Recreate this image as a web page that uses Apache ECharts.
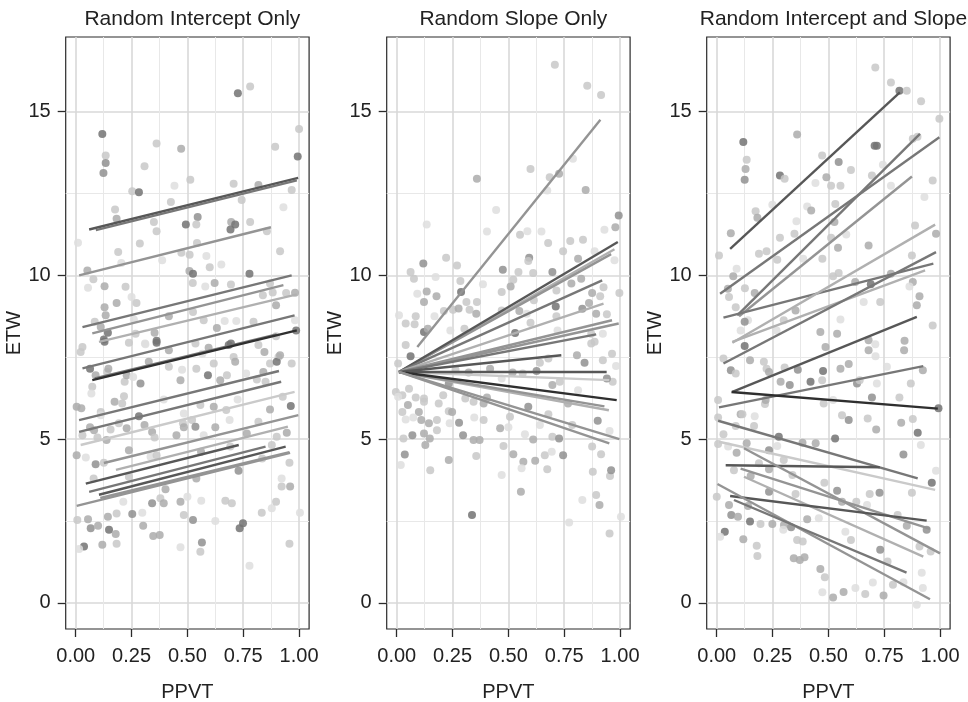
<!DOCTYPE html>
<html>
<head>
<meta charset="utf-8">
<script src="https://cdn.jsdelivr.net/npm/echarts@6/dist/echarts.min.js"></script>
<style>
html, body { margin: 0; padding: 0; background: #fff; }
#main { width: 968px; height: 702px; }
</style>
</head>
<body>
<div id="main"></div>
<script>
// panel titles and axis ticks
var panelTitles = ['Random Intercept Only', 'Random Slope Only', 'Random Intercept and Slope'];
var xTicks = [0, 0.25, 0.5, 0.75, 1];
var xMinor = [0.125, 0.375, 0.625, 0.875];
var yTicks = [0, 5, 10, 15];
var yMinor = [2.5, 7.5, 12.5];

// points: [PPVT, ETW, group shade 1..5]
var ptsIntercept = [
  [0.119,14.32,5],[0.134,13.66,2],[0.134,13.43,4],[0.124,13.13,4],[0.362,14.03,2],[0.472,13.87,3],[0.308,13.33,2],
  [0.726,15.56,5],[0.781,15.77,2],[1.0,14.47,2],[0.994,13.63,5],[0.893,13.93,2],[0.513,12.92,2],[0.442,12.74,1],
  [0.707,12.8,2],[0.253,12.57,2],[0.283,12.54,5],[0.426,12.24,2],[0.743,12.3,2],[0.818,12.76,3],[0.967,12.61,2],
  [0.93,12.08,1],[0.176,12.01,2],[0.183,11.73,3],[0.546,11.78,4],[0.493,11.55,5],[0.54,11.55,2],[0.35,11.63,2],
  [0.362,11.35,2],[0.696,11.63,3],[0.714,11.55,5],[0.693,11.4,5],[0.781,11.63,2],[0.856,11.35,2],[0.01,11.0,1],
  [0.287,10.97,2],[0.387,10.46,1],[0.19,10.71,2],[0.204,10.38,1],[0.473,10.69,2],[0.51,10.63,2],[0.543,10.99,2],
  [0.585,10.59,1],[0.652,10.33,1],[0.6,10.25,2],[0.509,10.13,3],[0.525,10.05,5],[0.915,10.74,2],[0.052,10.15,3],
  [0.079,9.88,2],[0.055,9.62,1],[0.129,9.67,3],[0.223,9.65,2],[0.524,9.77,2],[0.58,9.66,1],[0.622,9.77,3],
  [0.695,9.72,2],[0.778,10.05,5],[0.87,9.75,2],[0.882,9.48,2],[0.942,9.46,2],[0.982,9.47,3],[0.25,9.34,1],
  [0.272,9.16,2],[0.183,9.16,3],[0.129,9.03,3],[0.134,8.78,3],[0.085,8.58,2],[0.112,8.42,3],[0.26,8.65,1],
  [0.417,8.75,3],[0.525,8.88,2],[0.573,8.63,2],[0.667,8.61,1],[0.719,8.61,1],[0.796,8.58,2],[0.897,9.09,3],
  [0.838,9.39,2],[0.982,8.63,1],[0.987,8.32,5],[0.144,8.25,5],[0.268,8.22,2],[0.353,8.25,3],[0.31,7.92,1],
  [0.362,8.0,5],[0.126,8.04,5],[0.632,8.39,3],[0.695,7.92,5],[0.897,8.14,2],
  [0.03,7.81,2],[0.022,7.66,2],[0.129,7.97,5],[0.238,7.94,2],[0.312,7.9,1],[0.362,7.94,5],[0.417,7.71,3],
  [0.536,7.92,2],[0.595,7.79,3],[0.618,7.31,2],[0.567,7.61,1],[0.54,7.15,2],[0.707,7.51,2],[0.714,7.36,3],
  [0.685,7.87,5],[0.818,7.87,2],[0.845,7.66,3],[0.87,7.31,2],[0.908,7.51,2],[0.9,7.36,5],[0.967,7.31,2],
  [0.064,7.15,5],[0.074,6.6,2],[0.089,6.95,3],[0.07,6.39,1],[0.141,7.05,2],[0.146,7.15,3],[0.29,6.7,4],
  [0.219,6.75,2],[0.228,6.95,3],[0.257,6.9,1],[0.327,7.36,3],[0.417,7.21,2],[0.469,6.8,3],[0.476,7.12,1],
  [0.592,6.95,5],[0.647,6.8,3],[0.677,6.95,2],[0.763,7.0,1],[0.811,6.82,2],[0.84,7.05,3],[0.85,6.75,2],
  [0.915,7.56,3],[0.927,6.29,2],[0.725,6.21,1],[0.004,5.99,3],[0.025,5.94,3],[0.174,6.14,3],[0.208,6.09,2],
  [0.216,6.31,2],[0.112,5.83,2],[0.283,5.7,5],[0.064,5.36,3],[0.03,5.12,2],[0.112,5.73,1],[0.082,5.27,3],
  [0.156,5.29,2],[0.193,5.48,2],[0.228,5.33,3],[0.097,5.05,2],[0.138,4.97,3],[0.308,5.43,3],[0.342,5.22,3],
  [0.353,5.05,2],[0.394,6.21,1],[0.484,5.78,1],[0.48,5.48,2],[0.484,5.36,3],[0.521,5.58,2],[0.536,5.38,4],
  [0.451,5.12,3],[0.558,6.04,2],[0.618,5.99,3],[0.625,5.36,3],[0.573,5.12,1],[0.689,5.58,1],[0.674,5.89,2],
  [0.766,5.17,3],[0.818,5.53,2],[0.87,5.9,3],[0.9,5.07,2],[0.945,5.19,3],[0.963,6.01,5],[0.878,4.82,2],
  [0.004,4.51,3],[0.045,4.44,1],[0.089,4.23,4],[0.238,4.66,3],[0.335,4.46,1],[0.362,4.51,2],[0.126,4.28,2],
  [0.08,3.8,2],[0.238,3.85,2],[0.402,3.47,3],[0.54,3.8,3],[0.561,4.61,3],[0.692,4.77,2],[0.729,4.03,4],
  [0.835,4.41,2],[0.957,4.28,2],[0.922,3.55,2],[0.96,3.55,3],[0.007,2.53,2],[0.055,2.55,3],[0.067,2.28,4],
  [0.1,2.35,3],[0.144,2.63,3],[0.149,2.23,5],[0.179,2.1,3],[0.183,1.8,2],[0.119,1.77,3],[0.037,1.72,5],
  [0.015,1.64,1],[0.183,2.73,2],[0.213,3.09,1],[0.253,2.71,4],[0.298,2.75,1],[0.302,2.35,3],[0.342,3.04,4],
  [0.347,2.04,3],[0.376,2.07,3],[0.379,3.19,2],[0.394,3.04,3],[0.469,3.09,3],[0.484,2.68,2],[0.525,2.53,4],
  [0.5,3.24,1],[0.562,3.12,1],[0.469,1.7,1],[0.565,1.84,4],[0.558,1.56,2],[0.625,2.5,1],[0.67,3.12,2],
  [0.699,3.04,2],[0.734,2.28,5],[0.749,2.43,5],[0.778,1.13,1],[0.833,2.75,2],[0.878,2.89,1],[0.897,3.09,2],
  [0.922,3.8,1],[0.957,1.8,2],[1.004,2.75,1]
];

var ptsSlope = [
  [0.708,16.43,2],[0.853,15.79,2],[0.915,15.51,2],[0.359,12.95,3],[0.599,13.25,2],[0.685,13.0,2],[0.727,13.1,3],
  [0.789,13.56,1],[0.674,12.59,1],[0.846,12.61,3],[0.134,11.55,1],[0.445,12.0,1],[0.404,11.34,1],[0.552,11.24,2],
  [0.585,11.35,1],[0.648,11.34,1],[0.678,10.99,2],[0.745,10.74,2],[0.777,11.05,2],[0.834,11.09,2],[0.93,11.39,1],
  [0.979,11.47,3],[0.994,11.83,4],[0.975,10.46,1],[0.593,10.54,4],[0.589,10.44,2],[0.475,10.17,4],[0.545,10.1,2],
  [0.697,10.1,4],[0.812,10.51,3],[0.886,10.74,1],[0.062,10.1,2],[0.077,9.9,2],[0.119,10.36,4],[0.174,9.95,1],
  [0.221,10.54,2],[0.27,10.3,2],[0.285,9.83,2],[0.386,9.73,1],[0.47,9.49,2],[0.522,9.87,2],[0.51,9.66,3],
  [0.611,10.07,2],[0.715,9.54,2],[0.782,9.75,3],[0.826,9.9,3],[0.926,9.64,2],[0.875,9.46,3],[0.911,9.36,2],
  [0.997,9.46,2],[0.134,9.51,3],[0.178,9.36,3],[0.288,9.49,5],[0.092,9.44,1],[0.122,9.19,3],[0.01,8.78,1],
  [0.085,8.75,2],[0.169,8.75,1],[0.211,8.91,2],[0.252,8.95,2],[0.277,8.99,3],[0.326,8.95,2],[0.356,8.83,3],
  [0.359,9.19,2],[0.312,9.19,2],[0.47,8.93,2],[0.549,8.91,3],[0.614,9.24,2],[0.582,8.83,1],[0.712,9.05,5],
  [0.715,8.75,2],[0.831,8.98,4],[0.861,9.16,3],[0.893,8.83,3],[0.941,8.81,2],[0.122,8.27,5],[0.08,8.51,2],
  [0.139,8.37,3],[0.04,8.53,2],[0.24,8.32,1],[0.303,8.37,2],[0.53,8.24,5],[0.599,8.55,2],[0.72,8.32,1],
  [0.871,8.22,2],[0.923,8.22,1],[0.886,7.97,2],
  [0.006,7.31,2],[0.062,7.53,5],[0.04,7.87,2],[-0.004,6.44,2],[0.025,6.34,2],[0.006,6.29,1],[0.055,6.54,2],
  [0.05,6.04,3],[0.085,6.27,2],[0.122,6.24,2],[0.122,6.14,2],[0.099,5.83,3],[0.025,5.83,2],[0.04,5.6,1],
  [0.074,5.66,1],[0.11,5.58,3],[0.144,5.48,3],[0.18,5.58,2],[0.18,5.27,2],[0.122,5.17,3],[0.148,5.02,3],
  [0.128,4.82,3],[0.07,5.12,4],[0.03,5.02,2],[0.036,4.53,4],[0.018,4.21,1],[0.15,4.05,2],[0.188,6.09,2],
  [0.208,6.34,2],[0.233,5.85,2],[0.248,5.83,3],[0.279,5.5,4],[0.237,5.48,1],[0.297,5.12,4],[0.344,4.97,3],
  [0.371,4.97,3],[0.356,4.48,2],[0.233,4.36,3],[0.337,2.68,5],[0.307,6.24,2],[0.344,6.14,2],[0.389,6.09,3],
  [0.404,6.27,3],[0.347,5.66,1],[0.389,5.58,2],[0.463,5.33,3],[0.478,4.79,2],[0.47,3.9,1],[0.5,5.36,1],
  [0.507,5.68,2],[0.522,4.54,3],[0.567,4.31,3],[0.559,4.11,1],[0.556,3.39,3],[0.574,5.15,1],[0.611,4.99,3],
  [0.589,5.99,4],[0.62,4.34,3],[0.663,4.51,2],[0.674,4.08,2],[0.694,4.61,1],[0.697,5.07,2],[0.727,5.02,4],
  [0.745,4.51,4],[0.641,5.43,1],[0.679,5.76,2],[0.767,6.09,3],[0.786,5.43,2],[0.812,6.49,1],[0.772,2.45,1],
  [0.831,3.14,1],[0.878,4.0,2],[0.9,5.56,4],[0.875,4.77,2],[0.915,4.54,2],[0.893,3.29,2],[0.908,2.99,3],
  [0.953,2.12,2],[0.955,3.87,2],[0.96,4.05,4],[0.953,5.25,1],[1.004,2.63,1],[0.967,6.75,2],[0.941,6.85,4],
  [0.964,7.61,2],[0.982,7.23,1],[0.807,7.56,3],[0.841,7.33,4],[0.871,7.92,2],[0.923,7.41,2],[0.564,7.0,2],
  [0.519,7.03,3],[0.626,7.08,4],[0.47,6.85,1],[0.418,7.15,3],[0.322,7.03,3],[0.263,7.12,2],[0.233,6.7,4],
  [0.73,6.75,2],[0.697,6.65,3],[0.641,7.33,2],[0.679,7.46,2]
];

var ptsBoth = [
  [0.01,10.61,2],[0.063,11.29,3],[0.119,14.07,5],[0.134,13.53,2],[0.129,13.25,3],[0.125,12.92,4],[0.36,14.3,3],
  [0.71,16.35,2],[0.78,15.89,2],[0.818,15.64,5],[0.851,15.64,2],[0.915,15.32,2],[0.997,14.78,2],[0.717,13.96,5],
  [0.707,13.96,5],[0.472,13.66,2],[0.546,13.46,4],[0.601,13.22,2],[0.744,13.38,1],[0.283,13.05,5],[0.304,12.95,2],
  [0.442,12.82,1],[0.491,13.0,3],[0.512,12.74,2],[0.554,12.74,2],[0.695,13.05,2],[0.78,12.74,1],[0.967,12.9,2],
  [0.93,12.39,1],[0.878,14.17,2],[0.174,11.96,2],[0.182,11.76,3],[0.405,12.1,1],[0.423,11.98,3],[0.531,12.18,2],
  [0.527,11.63,3],[0.357,11.65,1],[0.348,11.27,2],[0.249,12.16,1],[0.283,11.15,2],[0.512,11.15,2],[0.58,11.25,1],
  [0.68,10.91,3],[0.543,10.84,3],[0.473,10.51,2],[0.189,10.66,2],[0.223,10.74,2],[0.271,10.48,2],[0.387,10.51,1],
  [0.521,9.97,2],[0.546,10.07,2],[0.089,10.2,1],[0.074,9.97,3],[0.05,9.59,3],[0.055,9.34,2],[0.085,9.03,2],
  [0.126,9.61,2],[0.17,9.46,3],[0.14,8.63,1],[0.125,8.58,4],[0.107,8.32,1],[0.353,8.93,3],[0.268,8.32,1],
  [0.3,8.63,2],[0.464,8.27,3],[0.539,8.22,3],[0.554,8.65,1],[0.62,9.8,3],[0.69,9.73,5],[0.732,9.19,2],
  [0.658,9.19,1],[0.78,10.05,3],[0.878,9.8,3],[0.863,9.66,1],[0.874,10.61,2],[0.908,9.36,3],[0.896,9.09,3],
  [0.967,8.47,2],[0.982,11.27,3],[0.888,11.52,2],[0.899,14.23,2],[0.841,8.0,3],[0.68,8.02,3],[0.71,7.9,1],
  [0.487,7.81,3],
  [0.03,7.46,2],[0.063,7.1,4],[0.085,7.0,2],[0.125,7.84,5],[0.149,7.41,3],[0.006,6.19,2],[0.211,7.36,2],
  [0.223,7.15,2],[0.234,7.05,3],[0.216,6.07,2],[0.219,6.19,3],[0.286,6.75,3],[0.304,7.19,2],[0.327,6.65,4],
  [0.363,7.12,4],[0.42,6.75,5],[0.476,7.08,5],[0.472,6.8,2],[0.479,6.09,2],[0.521,6.19,1],[0.554,7.15,3],
  [0.591,7.29,3],[0.628,6.7,4],[0.64,6.8,2],[0.695,6.27,4],[0.717,6.7,1],[0.68,7.71,3],[0.711,7.53,1],
  [0.762,7.21,1],[0.839,7.71,3],[0.869,6.7,2],[0.923,7.1,3],[0.818,6.27,2],[0.993,5.94,5],[0.561,5.73,2],
  [0.591,5.58,4],[0.676,5.63,2],[0.714,5.29,3],[0.826,5.5,3],[0.878,5.61,2],[0.9,5.19,5],[0.914,4.82,1],
  [0.836,4.53,4],[0.006,5.66,2],[0.03,5.15,2],[0.006,4.85,2],[0.051,4.77,1],[0.085,5.4,2],[0.107,5.76,3],
  [0.115,5.76,2],[0.17,5.7,1],[0.167,5.4,2],[0.134,4.87,3],[0.089,4.58,3],[0.077,4.05,2],[0.152,3.87,3],
  [0.189,4.26,2],[0.234,4.66,4],[0.234,4.08,3],[0.278,5.07,5],[0.271,4.79,1],[0.3,4.36,2],[0.339,3.9,2],
  [0.384,4.89,3],[0.443,4.87,3],[0.53,5.02,5],[0.0,3.24,2],[0.055,2.99,3],[0.065,2.68,4],[0.095,2.63,3],
  [0.14,2.96,3],[0.149,2.48,5],[0.036,2.17,5],[0.015,2.02,1],[0.119,1.94,3],[0.179,1.74,2],[0.182,1.43,2],
  [0.196,2.41,2],[0.234,3.39,4],[0.249,2.41,3],[0.301,2.38,3],[0.298,2.23,1],[0.333,2.31,4],[0.353,3.32,2],
  [0.36,1.92,2],[0.385,1.87,2],[0.345,1.36,3],[0.372,1.31,3],[0.393,1.39,3],[0.405,2.55,3],[0.457,2.58,1],
  [0.482,3.67,2],[0.464,1.03,3],[0.484,0.78,2],[0.473,0.32,1],[0.521,0.16,3],[0.568,0.33,3],[0.539,3.42,4],
  [0.561,3.09,3],[0.576,2.17,1],[0.601,1.92,2],[0.625,3.09,2],[0.621,0.45,1],[0.665,0.27,2],[0.673,2.99,1],
  [0.685,3.32,2],[0.729,3.36,4],[0.732,1.62,4],[0.765,1.26,2],[0.699,0.62,1],[0.747,0.22,3],[0.789,0.55,2],
  [0.81,2.68,2],[0.851,2.35,3],[0.836,0.63,1],[0.874,3.36,2],[0.908,1.72,2],[0.918,0.92,1],[0.923,0.45,1],
  [0.896,-0.06,1],[0.94,2.23,4],[0.958,1.57,2],[0.963,3.67,5],[0.982,4.03,1]
];

// fitted group lines: [x1, y1, x2, y2, group shade 1..6]
var linesIntercept = [
  [0.06,11.4,0.996,12.98,5],[0.09,11.38,0.99,12.9,4],[0.015,10.0,0.874,11.47,3],[0.03,8.42,0.967,10.0,4],
  [0.074,8.23,0.93,9.7,3],[0.104,7.97,0.99,9.42,2],[0.03,7.16,0.98,8.78,4],[0.085,6.85,0.9,8.2,4],
  [0.074,6.8,0.99,8.32,6],[0.015,5.58,0.91,7.08,4],[0.015,5.22,0.92,6.75,4],[0.022,4.82,0.98,6.44,1],
  [0.126,4.27,0.997,5.73,3],[0.18,4.06,0.95,5.38,2],[0.045,3.64,0.73,4.82,5],[0.06,3.39,0.85,4.77,4],
  [0.104,3.3,0.94,4.77,5],[0.11,3.2,0.957,4.6,3],[0.004,2.96,0.96,4.58,3]
];
var linesSlope = [
  [0.092,7.81,0.912,14.75,3],[0.01,7.05,0.975,10.8,2],[0.01,7.05,0.96,10.65,3],[0.01,7.05,0.99,11.02,5],
  [0.01,7.05,0.92,9.85,4],[0.01,7.05,0.926,9.14,2],[0.01,7.05,0.964,8.63,3],[0.01,7.05,0.994,8.53,3],
  [0.01,7.05,0.893,8.2,4],[0.01,7.05,0.737,7.56,5],[0.01,7.05,0.952,6.8,1],[0.01,7.05,0.94,7.05,5],
  [0.01,7.05,0.95,5.88,2],[0.01,7.05,0.93,6.0,3],[0.01,7.05,0.985,6.19,6],[0.01,7.05,0.997,5.0,3],
  [0.01,7.05,0.952,4.87,3]
];
var linesBoth = [
  [0.06,10.81,0.82,15.59,5],[0.015,9.44,0.997,14.22,4],[0.092,8.78,0.91,14.32,4],[0.1,8.75,0.874,13.02,3],
  [0.03,8.71,0.97,10.36,4],[0.07,7.94,0.978,11.55,2],[0.07,7.97,0.933,10.15,2],[0.03,7.31,0.982,10.71,4],
  [0.07,6.44,0.896,8.73,5],[0.01,5.97,0.925,7.23,4],[0.066,6.44,0.99,5.93,6],[0.006,5.56,0.9,3.8,4],
  [0.01,4.92,0.978,3.45,1],[0.04,4.2,0.73,4.14,5],[0.122,4.72,1.0,1.51,3],[0.107,4.1,0.955,2.26,3],
  [0.122,3.85,0.925,1.41,2],[0.06,3.26,0.94,2.51,5],[0.003,3.63,0.955,0.11,3],[0.077,3.14,0.85,0.92,4]
];

var pointColors = ['', '#dedede', '#c8c8c8', '#ababab', '#919191', '#737373'];
var lineColors = ['', '#cacaca', '#b0b0b0', '#949494', '#777777', '#575757', '#2f2f2f'];
var font = 'Liberation Sans, Arial, Helvetica, sans-serif';

var myChart = echarts.init(document.getElementById('main'));

var gridLefts = [65.7, 386.7, 706.7];
var allPts = [ptsIntercept, ptsSlope, ptsBoth];
var allLines = [linesIntercept, linesSlope, linesBoth];

var grids = [], xAxes = [], yAxes = [], titles = [], series = [];

for (var i = 0; i < 3; i++) {
    grids.push({
        left: gridLefts[i], top: 37, width: 243.4, height: 592,
        containLabel: false, outerBoundsMode: 'none',
        show: true, backgroundColor: '#fff', borderColor: '#2b2b2b', borderWidth: 1.2
    });
    titles.push({
        text: panelTitles[i],
        left: gridLefts[i] + 121.7, top: 4, textAlign: 'center',
        textStyle: { fontFamily: font, fontSize: 21, fontWeight: 'normal', color: '#222' }
    });
    // main axes (index 2*i) and minor-grid axes (index 2*i+1)
    xAxes.push({
        type: 'value', gridIndex: i, min: -0.045, max: 1.045, position: 'bottom',
        axisLine: { show: false, onZero: false },
        axisTick: { show: true, length: 8, customValues: xTicks, lineStyle: { color: '#2b2b2b', width: 1.3 } },
        axisLabel: {
            customValues: xTicks, margin: 17, fontSize: 20, fontFamily: font, color: '#222',
            formatter: function (v) { return v.toFixed(2); }
        },
        splitLine: { show: true, lineStyle: { color: '#d9d9d9', width: 1.6 } },
        name: 'PPVT', nameLocation: 'middle', nameGap: 53,
        nameTextStyle: { fontSize: 20, fontFamily: font, color: '#222' }
    });
    xAxes.push({
        type: 'value', gridIndex: i, min: -0.045, max: 1.045, position: 'top',
        axisLine: { show: false, onZero: false },
        axisTick: { show: false, customValues: xMinor },
        axisLabel: { show: false, customValues: xMinor },
        splitLine: { show: true, lineStyle: { color: '#e8e8e8', width: 1 } }
    });
    yAxes.push({
        type: 'value', gridIndex: i, min: -0.8, max: 17.28, position: 'left',
        axisLine: { show: false, onZero: false },
        axisTick: { show: true, length: 8, customValues: yTicks, lineStyle: { color: '#2b2b2b', width: 1.3 } },
        axisLabel: { customValues: yTicks, margin: 15, fontSize: 20, fontFamily: font, color: '#222' },
        splitLine: { show: true, lineStyle: { color: '#d9d9d9', width: 1.6 } },
        name: 'ETW', nameLocation: 'middle', nameGap: 41, nameRotate: 90,
        nameTextStyle: { fontSize: 20, fontFamily: font, color: '#222' }
    });
    yAxes.push({
        type: 'value', gridIndex: i, min: -0.8, max: 17.28, position: 'right',
        axisLine: { show: false, onZero: false },
        axisTick: { show: false, customValues: yMinor },
        axisLabel: { show: false, customValues: yMinor },
        splitLine: { show: true, lineStyle: { color: '#e8e8e8', width: 1 } }
    });

    series.push({
        type: 'scatter', xAxisIndex: 2 * i, yAxisIndex: 2 * i, clip: false,
        symbolSize: 8, z: 2,
        itemStyle: {
            opacity: 0.85,
            color: function (p) { return pointColors[p.data[2]]; }
        },
        data: allPts[i]
    });

    var segs = allLines[i].map(function (l) {
        return { coords: [[l[0], l[1]], [l[2], l[3]]], lineStyle: { color: lineColors[l[4]] } };
    });
    series.push({
        type: 'lines', coordinateSystem: 'cartesian2d', xAxisIndex: 2 * i, yAxisIndex: 2 * i,
        z: 3, lineStyle: { width: 2.4, opacity: 1, curveness: 0 },
        data: segs
    });
}

var option = {
    backgroundColor: '#fff',
    animation: false,
    title: titles,
    grid: grids,
    xAxis: xAxes,
    yAxis: yAxes,
    series: series
};
myChart.setOption(option);
</script>
</body>
</html>
